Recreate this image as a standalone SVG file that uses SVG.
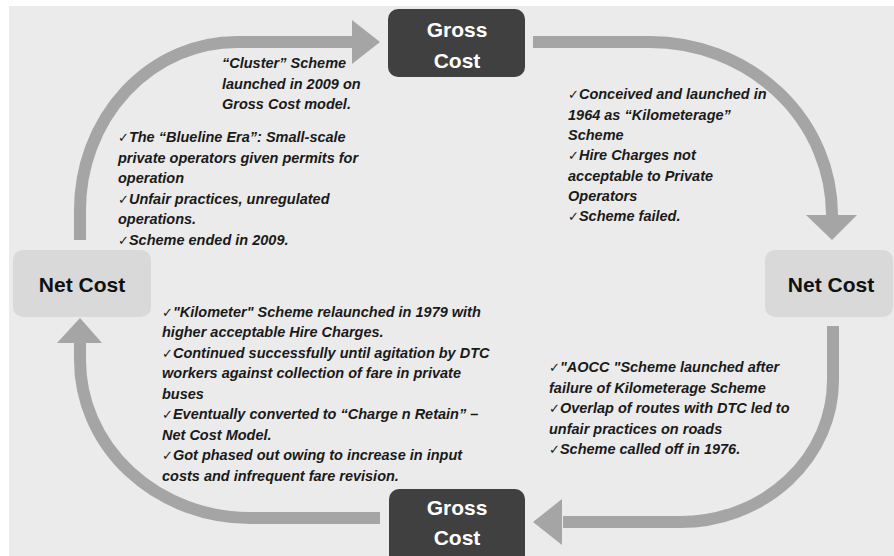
<svg xmlns="http://www.w3.org/2000/svg" width="894" height="556" viewBox="0 0 894 556">
<style>
.bg{fill:#ebebeb}
.arrow{fill:none;stroke:#a5a5a5;stroke-width:12}
.head{fill:#a5a5a5}
.dark{fill:#404040}
.light{fill:#d9d9d9}
.nt{font-family:"Liberation Sans",Arial,sans-serif;font-weight:bold;font-size:21px;text-anchor:middle}
.w{fill:#ffffff}
.b{fill:#111111}
.note{font-family:"Liberation Sans",Arial,sans-serif;font-style:italic;font-weight:bold;font-size:14.5px;fill:#1a1a1a}
.ck{font-family:"DejaVu Sans",sans-serif;font-style:normal;font-weight:normal;font-size:13px}
</style>
<rect class="bg" x="9" y="6" width="885" height="550"/>
<g id="connectors">
<path class="arrow" d="M80,240 V210 A157,168 0 0 1 237,42 H353"/>
<polygon class="head" points="352,20 380,42 352,64"/>
<path class="arrow" d="M533,42 H650 A182,173 0 0 1 832,215"/>
<polygon class="head" points="806,215 857,215 832,240"/>
<path class="arrow" d="M833,326 V380 A153,142 0 0 1 680,522 H563"/>
<polygon class="head" points="562,499 533,522 562,545"/>
<path class="arrow" d="M380,518 H250 A170,158 0 0 1 80,360 V342"/>
<polygon class="head" points="57,343 102,343 80,318"/>
</g>
<g id="gross-top">
<rect class="dark" x="388" y="9" width="137" height="68" rx="10"/>
<text class="nt w" x="457" y="37">Gross</text>
<text class="nt w" x="457" y="68">Cost</text>
</g>
<g id="net-right">
<rect class="light" x="765" y="250" width="128" height="67" rx="10"/>
<text class="nt b" x="831" y="292">Net Cost</text>
</g>
<g id="gross-bottom">
<rect class="dark" x="389" y="489" width="136" height="76" rx="10"/>
<text class="nt w" x="457" y="515">Gross</text>
<text class="nt w" x="457" y="545">Cost</text>
</g>
<g id="net-left">
<rect class="light" x="13" y="250" width="138" height="67" rx="10"/>
<text class="nt b" x="82" y="292">Net Cost</text>
</g>
<g id="notes">
<text class="note" x="222" y="68">“Cluster” Scheme</text>
<text class="note" x="222" y="89">launched in 2009 on</text>
<text class="note" x="222" y="109">Gross Cost model.</text>

<text class="note" x="118" y="142"><tspan class="ck">✓</tspan>The “Blueline Era”: Small-scale</text>
<text class="note" x="118" y="162.5">private operators given permits for</text>
<text class="note" x="118" y="183">operation</text>
<text class="note" x="118" y="203.5"><tspan class="ck">✓</tspan>Unfair practices, unregulated</text>
<text class="note" x="118" y="224">operations.</text>
<text class="note" x="118" y="244.5"><tspan class="ck">✓</tspan>Scheme ended in 2009.</text>

<text class="note" x="568" y="99"><tspan class="ck">✓</tspan>Conceived and launched in</text>
<text class="note" x="568" y="119.5">1964 as “Kilometerage”</text>
<text class="note" x="568" y="140">Scheme</text>
<text class="note" x="568" y="160"><tspan class="ck">✓</tspan>Hire Charges not</text>
<text class="note" x="568" y="180.5">acceptable to Private</text>
<text class="note" x="568" y="201">Operators</text>
<text class="note" x="568" y="221"><tspan class="ck">✓</tspan>Scheme failed.</text>

<text class="note" x="162" y="316.5"><tspan class="ck">✓</tspan>"Kilometer" Scheme relaunched  in 1979 with</text>
<text class="note" x="162" y="337">higher acceptable Hire Charges.</text>
<text class="note" x="162" y="357.5"><tspan class="ck">✓</tspan>Continued successfully until agitation by DTC</text>
<text class="note" x="162" y="378">workers against collection of fare in private</text>
<text class="note" x="162" y="398.5">buses</text>
<text class="note" x="162" y="419"><tspan class="ck">✓</tspan>Eventually converted to “Charge n Retain” –</text>
<text class="note" x="162" y="439.5">Net Cost Model.</text>
<text class="note" x="162" y="460"><tspan class="ck">✓</tspan>Got phased out owing to increase in input</text>
<text class="note" x="162" y="480.5">costs and infrequent fare revision.</text>

<text class="note" x="549" y="372"><tspan class="ck">✓</tspan>"AOCC "Scheme launched after</text>
<text class="note" x="549" y="392.5">failure of Kilometerage Scheme</text>
<text class="note" x="549" y="413"><tspan class="ck">✓</tspan>Overlap of routes with DTC led to</text>
<text class="note" x="549" y="433.5">unfair practices on roads</text>
<text class="note" x="549" y="454"><tspan class="ck">✓</tspan>Scheme called off in 1976.</text>
</g>
</svg>
